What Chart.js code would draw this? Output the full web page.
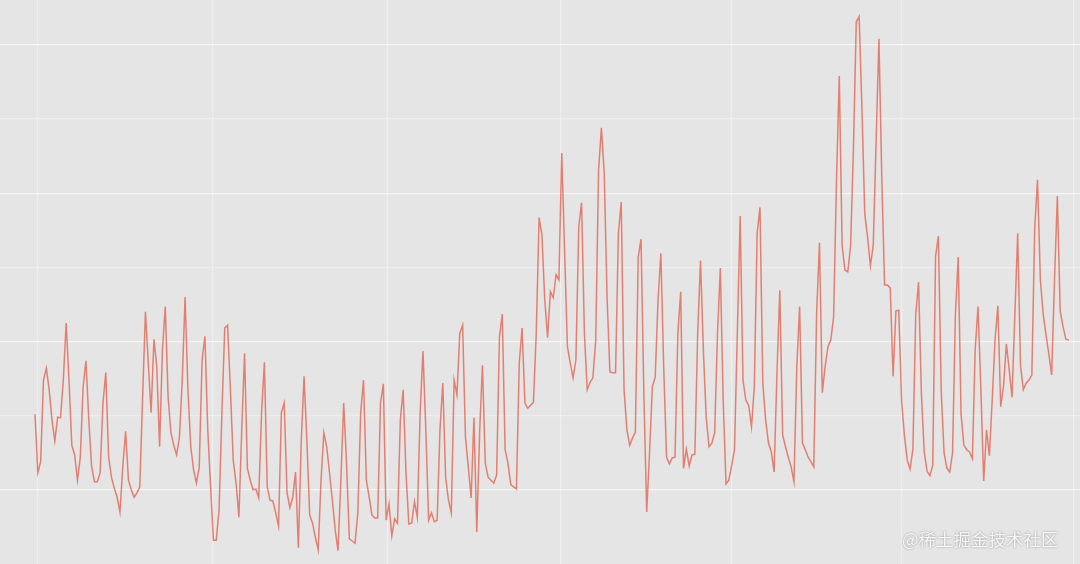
<!DOCTYPE html>
<html>
<head>
<meta charset="utf-8">
<script src="https://cdn.jsdelivr.net/npm/chart.js@4.4.1/dist/chart.umd.min.js"></script>
<style>
  html, body { margin: 0; padding: 0; background: #e5e5e5; }
  #wrap { position: relative; width: 1080px; height: 564px; }
  #mark {
    position: absolute; left: 902px; top: 526px;
    font-family: "Noto Sans CJK SC", sans-serif; font-size: 17.5px;
    color: #f6f6f6; text-shadow: 0 0 2px rgba(0,0,0,0.4);
    white-space: nowrap;
  }
</style>
</head>
<body>
<div id="wrap">
  <canvas id="chart" width="1080" height="564"></canvas>
  <div id="mark">@稀土掘金技术社区</div>
</div>
<script>
// daily values, one per day (366 days)
const values = [
  202, 123, 138, 248, 264, 235, 194, 166, 198, 197, 248, 325, 248, 160, 147, 113, 144, 239, 274, 194,
  131, 111, 111, 123, 217, 258, 144, 117, 102, 90, 70, 131, 179, 113, 100, 90, 96, 104, 225, 340,
  271, 204, 303, 266, 158, 289, 347, 225, 177, 160, 147, 171, 248, 360, 235, 158, 127, 109, 131, 275,
  307, 181, 104, 32, 32, 73, 204, 318, 322, 235, 140, 109, 63, 181, 284, 129, 113, 100, 101, 89,
  204, 272, 104, 86, 85, 69, 51, 204, 217, 96, 76, 90, 124, 22, 163, 253, 167, 66, 55, 36,
  19, 113, 177, 158, 123, 86, 46, 18, 113, 217, 136, 34, 31, 28, 69, 204, 248, 113, 90, 66,
  62, 62, 217, 243, 59, 81, 38, 61, 55, 194, 235, 123, 54, 55, 84, 63, 204, 287, 181, 59,
  69, 57, 59, 181, 244, 117, 86, 69, 248, 228, 311, 322, 171, 131, 89, 197, 43, 177, 268, 136,
  117, 113, 109, 120, 306, 337, 154, 136, 107, 104, 101, 271, 318, 217, 210, 214, 218, 311, 467, 444,
  356, 305, 367, 359, 390, 383, 554, 423, 293, 271, 251, 275, 454, 487, 311, 235, 245, 251, 302, 531,
  588, 527, 360, 259, 258, 258, 446, 488, 235, 181, 160, 170, 178, 414, 438, 228, 70, 150, 239, 252,
  356, 419, 266, 144, 135, 143, 144, 311, 367, 129, 155, 132, 147, 148, 311, 409, 289, 198, 158, 163,
  177, 311, 399, 221, 108, 113, 133, 154, 311, 469, 248, 221, 214, 185, 239, 446, 481, 244, 194, 163,
  151, 124, 258, 369, 174, 158, 144, 131, 111, 266, 347, 163, 154, 144, 138, 131, 338, 433, 231, 266,
  293, 302, 333, 514, 658, 430, 396, 394, 429, 560, 731, 738, 615, 472, 440, 402, 430, 569, 708, 522,
  376, 376, 372, 253, 341, 342, 220, 173, 140, 128, 155, 336, 380, 229, 151, 125, 119, 133, 415, 442,
  233, 150, 129, 124, 150, 336, 414, 202, 160, 154, 151, 142, 290, 347, 235, 112, 181, 146, 221, 302,
  348, 212, 240, 297, 262, 225, 336, 446, 267, 235, 244, 248, 255, 452, 518, 383, 337, 309, 283, 255,
  383, 496, 341, 320, 303, 302
];
const dayIndex = values.map((v, i) => i);
// x positions of the vertical grid lines (two-month steps)
const monthTicks = [1, 62.8, 124.6, 185.7, 246, 306.1, 366.9];
const yTicks = [100, 200, 300, 400, 500, 600, 700];

const ctx = document.getElementById('chart').getContext('2d');

const background = {
    id: 'background',
    beforeDraw(chart) {
        const c = chart.ctx;
        c.save();
        c.fillStyle = '#e5e5e5';
        c.fillRect(0, 0, chart.width, chart.height);
        c.restore();
    }
};

new Chart(ctx, {
    type: 'line',
    data: {
        datasets: [{
            data: dayIndex.map(i => ({ x: i, y: values[i] })),
            borderColor: 'rgba(226, 74, 51, 0.66)',
            borderWidth: 1.5,
            pointRadius: 0,
            tension: 0,
            fill: false
        }]
    },
    options: {
        responsive: false,
        animation: false,
        devicePixelRatio: 1,
        layout: { padding: 0 },
        plugins: {
            legend: { display: false },
            tooltip: { enabled: false }
        },
        scales: {
            x: {
                type: 'linear',
                min: -12.36,
                max: 369.0,
                afterBuildTicks: axis => { axis.ticks = monthTicks.map(v => ({ value: v })); },
                ticks: { display: false },
                grid: { color: 'rgba(255, 255, 255, 0.4)', lineWidth: 1.2, drawTicks: false },
                border: { display: false }
            },
            y: {
                min: 0,
                max: 760.4,
                afterBuildTicks: axis => { axis.ticks = yTicks.map(v => ({ value: v })); },
                ticks: { display: false },
                grid: {
                    color: c => (c.tick.value % 200 === 100) ? 'rgba(255, 255, 255, 0.6)' : 'rgba(255, 255, 255, 0.35)',
                    lineWidth: 1.2,
                    drawTicks: false
                },
                border: { display: false }
            }
        }
    },
    plugins: [background]
});
</script>
</body>
</html>
